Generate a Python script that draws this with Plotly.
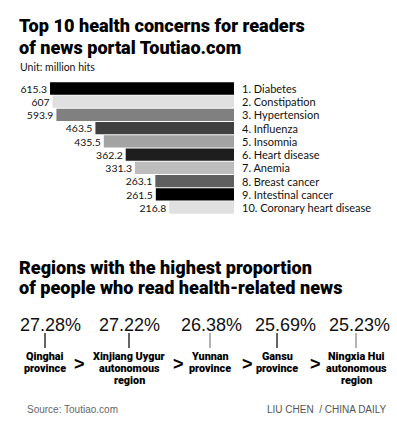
import plotly.graph_objects as go

# ---------------- data ----------------
diseases = ["1. Diabetes", "2. Constipation", "3. Hypertension", "4. Influenza",
            "5. Insomnia", "6. Heart disease", "7. Anemia", "8. Breast cancer",
            "9. Intestinal cancer", "10. Coronary heart disease"]
hits = [615.3, 607, 593.9, 463.5, 435.5, 362.2, 331.3, 263.1, 261.5, 216.8]

regions = [["Qinghai", "province"],
           ["Xinjiang Uygur", "autonomous", "region"],
           ["Yunnan", "province"],
           ["Gansu", "province"],
           ["Ningxia Hui", "autonomous", "region"]]
shares = [27.28, 27.22, 26.38, 25.69, 25.23]

# ---------------- styles / layout ----------------
bar_colors = ["#000000", "#e0e0e0", "#808080", "#404040", "#a3a3a3",
              "#1e1e1e", "#bdbdbd", "#5f5f5f", "#000000", "#e0e0e0"]
line_colors = ["#111111", "#111111", "#8a8a8a", "#111111", "#8a8a8a"]

W, H = 397, 425
def px(x):
    return x / W
def py(y):
    return 1 - y / H

TITLE_FONT = dict(family="Roboto", size=18.1, color="#000000", weight=900)
LABEL_FONT = dict(family="Lato", size=11, color="#111111")

fig = go.Figure(go.Bar(
    y=diseases, x=hits, orientation="h",
    marker=dict(color=bar_colors, line=dict(width=0)),
    text=[f"{v:g}" for v in hits], textposition="outside",
    textfont=LABEL_FONT, cliponaxis=False, hoverinfo="skip",
))

ann = []
# titles
ann.append(dict(text="Top 10 health concerns for readers", x=px(17), y=py(26)))
ann.append(dict(text="of news portal Toutiao.com", x=px(17), y=py(47)))
ann.append(dict(text="Regions with the highest proportion", x=px(17), y=py(267)))
ann.append(dict(text="of people who read health-related news", x=px(17), y=py(287)))
for a in ann:
    a.update(xref="paper", yref="paper", xanchor="left", yanchor="middle",
             showarrow=False, font=TITLE_FONT)

ann.append(dict(text="Unit: million hits", x=px(18), y=py(67), xref="paper", yref="paper",
                xanchor="left", yanchor="middle", showarrow=False,
                font=dict(family="Lato", size=10.5, color="#111111")))

# category labels right of bars
for d in diseases:
    ann.append(dict(text=d, x=px(240), y=d, xref="paper", yref="y", xanchor="left",
                    yanchor="middle", showarrow=False, font=LABEL_FONT))

# second part
pct_x = [50, 129, 211, 285, 359]
line_x = [45, 129, 210, 277, 356]
gt_x = [79, 178, 247, 315]
shapes = []
for i, s in enumerate(shares):
    ann.append(dict(text=f"{s:.2f}%", x=px(pct_x[i]), y=py(325), xref="paper", yref="paper",
                    xanchor="center", yanchor="middle", showarrow=False,
                    font=dict(family="Liberation Sans", size=18, color="#111111")))
    shapes.append(dict(type="line", xref="paper", yref="paper",
                       x0=px(line_x[i]), x1=px(line_x[i]), y0=py(333), y1=py(348),
                       line=dict(color=line_colors[i], width=1.3)))
    for j, ln in enumerate(regions[i]):
        ann.append(dict(text=ln, x=px(line_x[i]), y=py(356 + 12.3 * j), xref="paper",
                        yref="paper", xanchor="center", yanchor="middle", showarrow=False,
                        font=dict(family="Roboto", size=10.8, color="#000000",
                                  weight=900)))
for gx in gt_x:
    ann.append(dict(text=">", x=px(gx), y=py(364), xref="paper", yref="paper",
                    xanchor="center", yanchor="middle", showarrow=False,
                    font=dict(family="Liberation Sans", size=18, color="#000000",
                              weight="bold")))

ann.append(dict(text="Source: Toutiao.com", x=px(25), y=py(409), xref="paper", yref="paper",
                xanchor="left", yanchor="middle", showarrow=False,
                font=dict(family="Liberation Sans", size=10, color="#666666")))
ann.append(dict(text="LIU CHEN  / CHINA DAILY", x=px(389), y=py(409), xref="paper", yref="paper",
                xanchor="right", yanchor="middle", showarrow=False,
                font=dict(family="Liberation Sans", size=10, color="#555555")))

fig.update_layout(
    width=W, height=H, margin=dict(l=0, r=0, t=0, b=0),
    paper_bgcolor="white", plot_bgcolor="white", showlegend=False,
    bargap=0.07,
    xaxis=dict(domain=[0, px(234)], range=[234 / 0.299, 0], visible=False, fixedrange=True),
    yaxis=dict(domain=[py(216), py(80)], autorange="reversed", visible=False,
               categoryorder="array", categoryarray=diseases, fixedrange=True),
    annotations=ann, shapes=shapes,
)

fig.write_html("out.html", config={"displayModeBar": False},
               post_script="document.body.style.margin='0';document.body.style.overflow='hidden';")
